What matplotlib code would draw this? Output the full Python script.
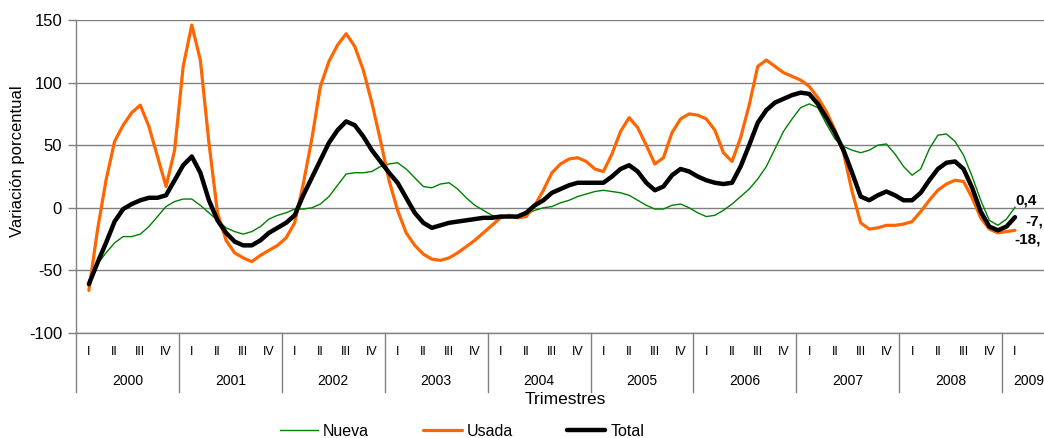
import numpy as np
import matplotlib
matplotlib.use("Agg")
import matplotlib.pyplot as plt
import matplotlib.transforms as mtransforms
from matplotlib.lines import Line2D

plt.rcParams['font.family'] = ['Liberation Sans', 'DejaVu Sans']
plt.rcParams['axes.unicode_minus'] = False

# ---- data (monthly readings, 2000 I .. 2009 I) ----
nueva = [-58, -45, -36, -28, -23, -23, -21, -15, -7, 1, 5, 7, 7, 2, -4, -10, -16, -19,
         -21, -19, -15, -9, -6, -4, -1, -1, 0, 3, 9, 18, 27, 28, 28, 29, 33, 35,
         36, 31, 24, 17, 16, 19, 20, 15, 8, 2, -2, -6, -7, -7, -7, -5, -2, 0,
         1, 4, 6, 9, 11, 13, 14, 13, 12, 10, 6, 2, -1, -1, 2, 3, 0, -4,
         -7, -6, -2, 3, 9, 15, 23, 33, 47, 61, 71, 80, 83, 80, 67, 55, 49, 46,
         44, 46, 50, 51, 43, 33, 26, 31, 47, 58, 59, 53, 42, 25, 6, -10, -14, -9,
         0.4]
usada = [-66, -18, 22, 53, 66, 76, 82, 65, 41, 17, 46, 113, 146, 118, 52, -4, -26, -36,
         -40, -43, -38, -34, -30, -24, -12, 19, 55, 97, 117, 130, 139, 129, 110, 84, 54, 22,
         -2, -20, -30, -37, -41, -42, -40, -36, -31, -26, -20, -14, -8, -6, -8, -7, 2, 14,
         28, 35, 39, 40, 37, 31, 29, 43, 61, 72, 64, 50, 35, 40, 60, 71, 75, 74,
         71, 62, 44, 37, 56, 82, 113, 118, 113, 108, 105, 102, 97, 88, 77, 62, 44, 13,
         -12, -17, -16, -14, -14, -13, -11, -3, 6, 14, 19, 22, 21, 8, -8, -17, -20, -19,
         -18]
total = [-61, -44, -28, -11, -1, 3, 6, 8, 8, 10, 22, 34, 41, 28, 6, -10, -20, -27,
         -30, -30, -26, -20, -16, -12, -6, 10, 24, 38, 52, 62, 69, 66, 57, 46, 37, 28,
         20, 8, -4, -12, -16, -14, -12, -11, -10, -9, -8, -8, -7, -7, -7, -4, 2, 6,
         12, 15, 18, 20, 20, 20, 20, 25, 31, 34, 29, 20, 14, 17, 26, 31, 29, 25,
         22, 20, 19, 20, 33, 50, 68, 78, 84, 87, 90, 92, 91, 83, 72, 60, 46, 28,
         9, 6, 10, 13, 10, 6, 6, 12, 22, 31, 36, 37, 31, 16, -3, -15, -18, -15,
         -7.5]
quarters = ['I', 'II', 'III', 'IV'] * 9 + ['I']
years = ['2000', '2001', '2002', '2003', '2004', '2005', '2006', '2007', '2008', '2009']
end_labels = ['0,4', '-7,', '-18,']

# ---- figure ----
W, H = 1044, 438
fig = plt.figure(figsize=(W / 100, H / 100), dpi=100)
ax = fig.add_axes([76 / W, 105 / H, (W - 76) / W, 313 / H])

x = np.arange(len(total)) / 3.0
ax.plot(x, nueva, color='#008000', lw=1.0, label='Nueva', solid_joinstyle='round', zorder=3)
ax.plot(x, usada, color='#FF6600', lw=2.3, label='Usada', solid_joinstyle='round',
        solid_capstyle='round', zorder=4)
ax.plot(x, total, color='black', lw=3.2, label='Total', solid_joinstyle='round',
        solid_capstyle='round', zorder=5)

ax.set_ylim(-100, 150)
ax.set_xlim(-0.5, (W - 88) / 25.75)
ax.set_yticks([-100, -50, 0, 50, 100, 150])
ax.yaxis.grid(True, color='#808080', lw=1.0)
ax.set_axisbelow(True)
ax.set_xticks([])
for s in ['top', 'right']:
    ax.spines[s].set_visible(False)
for s in ['left', 'bottom']:
    ax.spines[s].set_color('#808080')
    ax.spines[s].set_linewidth(1.0)
ax.tick_params(axis='y', direction='out', length=6, width=1, color='#808080',
               labelsize=12, pad=4)
fig.text(18 / W, 1 - 161 / H, 'Variación porcentual', rotation=90,
         ha='center', va='center', fontsize=12)

# ---- multi-level category axis ----
tr = mtransforms.blended_transform_factory(ax.transData, fig.transFigure)
for i, q in enumerate(quarters):
    ax.text(i, 1 - 352 / H, q, transform=tr, ha='center', va='center', fontsize=9)
for j, yr in enumerate(years):
    if j < 9:
        xc = 4 * j + 1.5
    else:
        xc = 36.55
    ax.text(xc, 1 - 381 / H, yr, transform=tr, ha='center', va='center', fontsize=10)
for j in range(10):
    xb = 4 * j - 0.5
    ax.add_line(Line2D([xb, xb], [1 - 333 / H, 1 - 392 / H], transform=tr,
                       color='#808080', lw=1.0, clip_on=False))
fig.text(565 / W, 1 - 400 / H, 'Trimestres', ha='center', va='center', fontsize=12.5)

# ---- end labels ----
n = len(total) - 1
ax.text(x[n] + 0.03, nueva[n] + 5.2, end_labels[0], fontsize=11, fontweight='bold',
        ha='left', va='center')
ax.text(x[n] + 0.4, total[n] - 3.8, end_labels[1], fontsize=11, fontweight='bold',
        ha='left', va='center')
ax.text(x[n] - 0.03, usada[n] - 7, end_labels[2], fontsize=11, fontweight='bold',
        ha='left', va='center')

# ---- legend ----
fig.legend(loc='center', bbox_to_anchor=(462 / W, 1 - 431 / H), ncol=3, frameon=False,
           fontsize=11.5, handlelength=2.4, handletextpad=0.3, columnspacing=3.4,
           borderaxespad=0, borderpad=0)

fig.savefig('out.png', dpi=100)
